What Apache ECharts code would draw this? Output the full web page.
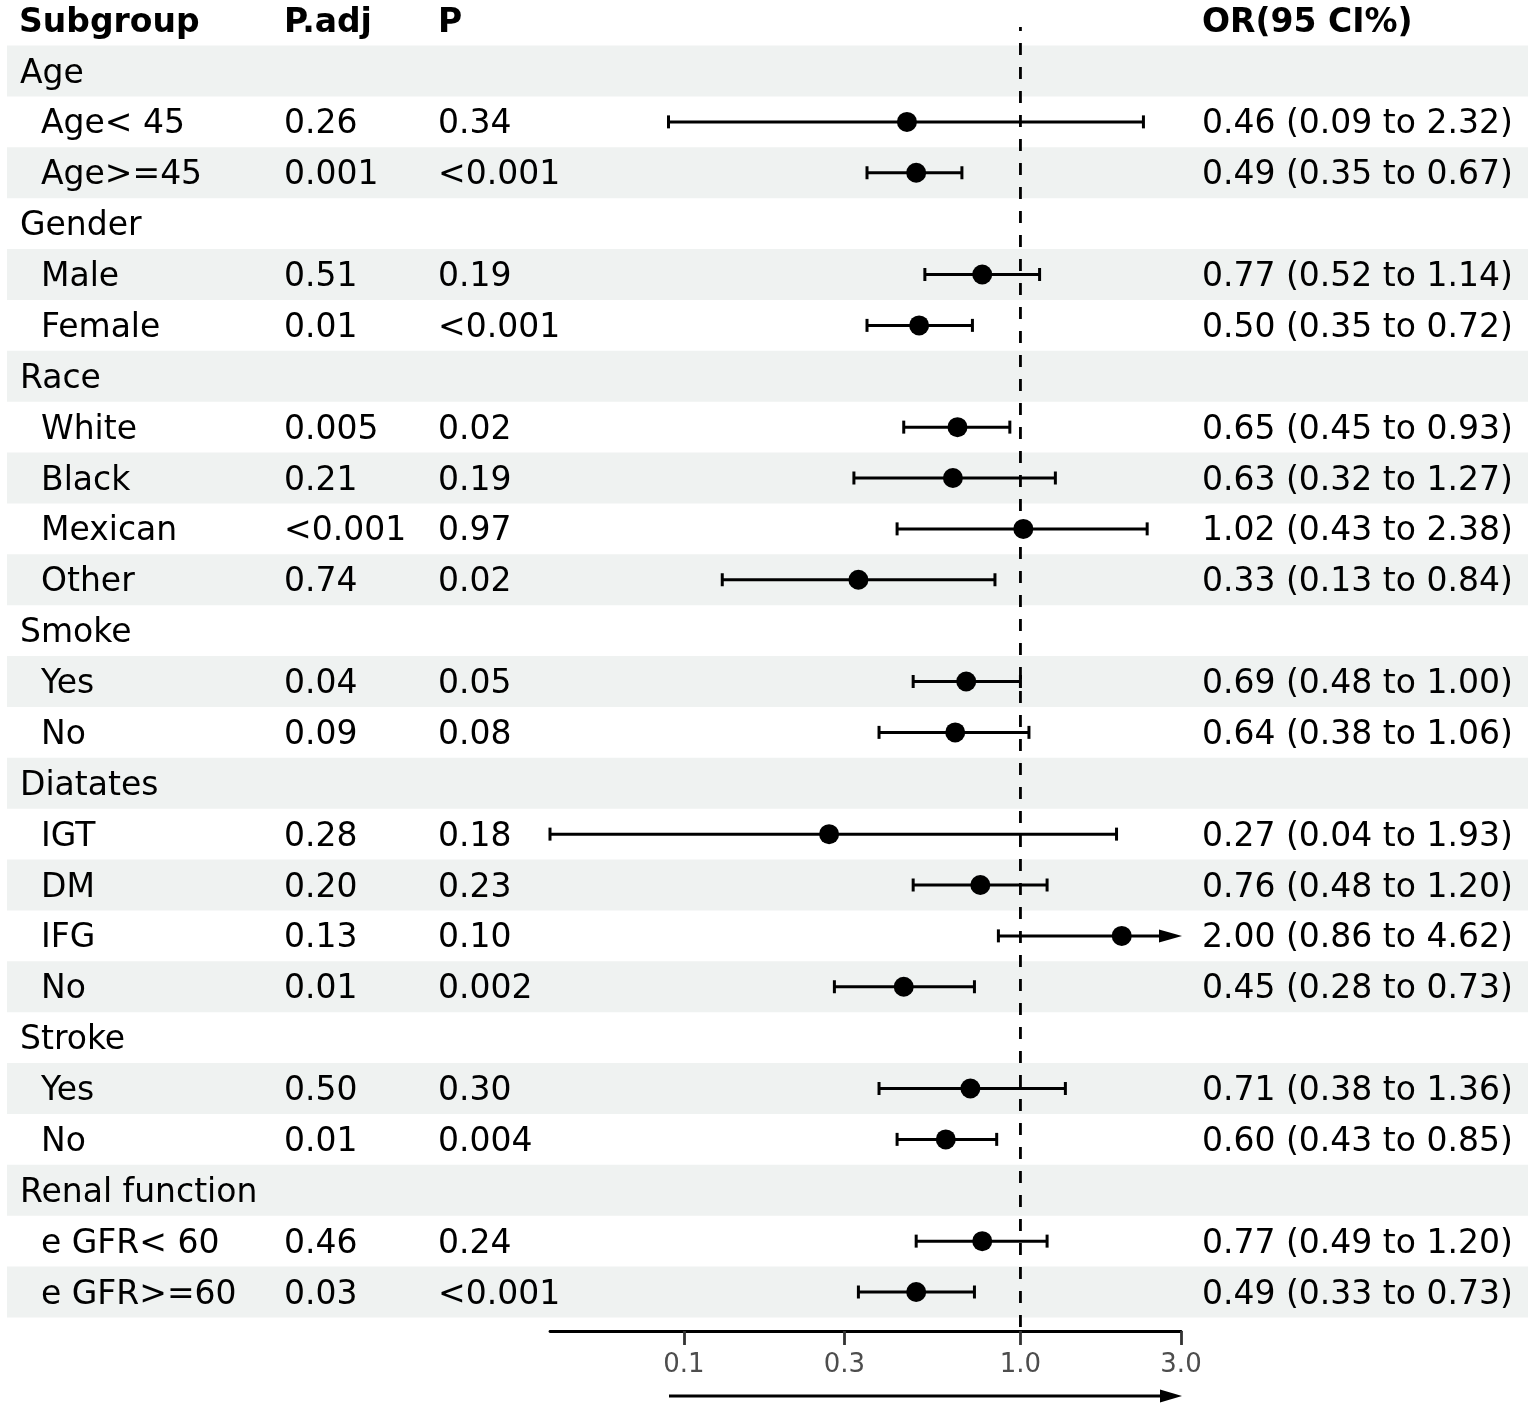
<!DOCTYPE html>
<html>
<head>
<meta charset="utf-8">
<script src="https://cdn.jsdelivr.net/npm/echarts@6/dist/echarts.min.js"></script>
<style>
  html, body { margin: 0; padding: 0; background: #fff; }
  #chart { width: 1535px; height: 1409px; }
</style>
</head>
<body>
<div id="chart"></div>
<script>
// ---------- DATA ----------
const headers = ['Subgroup', 'P.adj', 'P', 'OR(95 CI%)'];
const subgroups = ['Age', 'Age< 45', 'Age>=45', 'Gender', 'Male', 'Female', 'Race', 'White', 'Black', 'Mexican', 'Other',
  'Smoke', 'Yes', 'No', 'Diatates', 'IGT', 'DM', 'IFG', 'No', 'Stroke', 'Yes', 'No', 'Renal function', 'e GFR< 60', 'e GFR>=60'];
const isGroup = [1, 0, 0, 1, 0, 0, 1, 0, 0, 0, 0, 1, 0, 0, 1, 0, 0, 0, 0, 1, 0, 0, 1, 0, 0];
const pAdj = ['', '0.26', '0.001', '', '0.51', '0.01', '', '0.005', '0.21', '<0.001', '0.74',
  '', '0.04', '0.09', '', '0.28', '0.20', '0.13', '0.01', '', '0.50', '0.01', '', '0.46', '0.03'];
const pVal = ['', '0.34', '<0.001', '', '0.19', '<0.001', '', '0.02', '0.19', '0.97', '0.02',
  '', '0.05', '0.08', '', '0.18', '0.23', '0.10', '0.002', '', '0.30', '0.004', '', '0.24', '<0.001'];
const orVal = [null, 0.46, 0.49, null, 0.77, 0.50, null, 0.65, 0.63, 1.02, 0.33,
  null, 0.69, 0.64, null, 0.27, 0.76, 2.00, 0.45, null, 0.71, 0.60, null, 0.77, 0.49];
const ciLow = [null, 0.09, 0.35, null, 0.52, 0.35, null, 0.45, 0.32, 0.43, 0.13,
  null, 0.48, 0.38, null, 0.04, 0.48, 0.86, 0.28, null, 0.38, 0.43, null, 0.49, 0.33];
const ciHigh = [null, 2.32, 0.67, null, 1.14, 0.72, null, 0.93, 1.27, 2.38, 0.84,
  null, 1.00, 1.06, null, 1.93, 1.20, 4.62, 0.73, null, 1.36, 0.85, null, 1.20, 0.73];
const xTicks = [0.1, 0.3, 1, 3];
const refValue = 1;

// ---------- LAYOUT ----------
const X_MIN = 0.04, X_MAX = 3;
const GRID_TOP = 27, GRID_BOTTOM = 78;
const ROW_H = 50.875, ROW0_OFFSET = 44;
const Y_MIN = -ROW0_OFFSET / ROW_H;
const Y_MAX = Y_MIN + (1409 - GRID_TOP - GRID_BOTTOM) / ROW_H;
const FONT = 'DejaVu Sans';
const FS = 33;
const TEXT_DY = 3;
const COL_X = { group: 20, item: 41, padj: 284, p: 438, or: 1202 };

const fmt = v => v.toFixed(2);
const orText = orVal.map((v, i) => v == null ? '' : `${fmt(v)} (${fmt(ciLow[i])} to ${fmt(ciHigh[i])})`);

const rowIdx = subgroups.map((_, i) => i);

const bgData = rowIdx.filter(i => i % 2 === 0).map(i => [1, i]);
const textData = [[1, -1]].concat(rowIdx.map(i => [1, i]));
const ciData = rowIdx.filter(i => orVal[i] != null).map(i => [ciLow[i], i, ciHigh[i]]);
const dotData = rowIdx.filter(i => orVal[i] != null).map(i => [orVal[i], i]);

const chart = echarts.init(document.getElementById('chart'), null, { renderer: 'canvas' });

const textEl = (txt, x, y, bold) => ({
  type: 'text',
  style: {
    text: txt, x: x, y: y,
    font: (bold ? 'bold ' : '') + FS + 'px "' + FONT + '"',
    fill: '#000', textAlign: 'left', textVerticalAlign: 'middle'
  }
});

chart.setOption({
  animation: false,
  backgroundColor: '#ffffff',
  grid: { left: 550, right: 354, top: GRID_TOP, bottom: GRID_BOTTOM, containLabel: false },
  xAxis: {
    type: 'log', logBase: 10, min: X_MIN, max: X_MAX,
    axisLine: { show: true, onZero: false, lineStyle: { color: '#000', width: 2.8 } },
    axisTick: { show: true, customValues: xTicks, length: 14, lineStyle: { color: '#333', width: 2.8 } },
    axisLabel: { customValues: xTicks, formatter: v => Number(v).toFixed(1), fontSize: 26, fontFamily: FONT, color: '#4d4d4d', margin: 21 },
    splitLine: { show: false },
    minorTick: { show: false }
  },
  yAxis: { type: 'value', inverse: true, min: Y_MIN, max: Y_MAX, show: false },
  series: [
    {
      type: 'custom', z: 0, silent: true,
      data: bgData,
      encode: { x: 0, y: 1 },
      renderItem: (params, api) => {
        const r = api.value(1);
        const y0 = api.coord([1, r - 0.5])[1];
        const y1 = api.coord([1, r + 0.5])[1];
        return { type: 'rect', shape: { x: 7, y: y0, width: 1521, height: y1 - y0 }, style: { fill: '#eff2f1' } };
      }
    },
    {
      type: 'custom', z: 5, silent: true,
      data: textData,
      encode: { x: 0, y: 1 },
      renderItem: (params, api) => {
        const r = api.value(1);
        const y = api.coord([1, r])[1] + TEXT_DY;
        if (r === -1) {
          return {
            type: 'group', children: [
              textEl(headers[0], COL_X.group - 1, y, true),
              textEl(headers[1], COL_X.padj, y, true),
              textEl(headers[2], COL_X.p, y, true),
              textEl(headers[3], COL_X.or, y, true)
            ]
          };
        }
        const kids = [textEl(subgroups[r], isGroup[r] ? COL_X.group : COL_X.item, y, false)];
        if (pAdj[r]) kids.push(textEl(pAdj[r], COL_X.padj, y, false));
        if (pVal[r]) kids.push(textEl(pVal[r], COL_X.p, y, false));
        if (orText[r]) kids.push(textEl(orText[r], COL_X.or, y, false));
        return { type: 'group', children: kids };
      }
    },
    {
      type: 'custom', z: 3, silent: true,
      data: [[refValue, 0]],
      encode: { x: 0, y: 1 },
      renderItem: (params, api) => {
        const x = api.value(0);
        const p0 = api.coord([x, Y_MIN]);
        const p1 = api.coord([x, Y_MAX]);
        return {
          type: 'line',
          shape: { x1: p0[0], y1: p0[1], x2: p1[0], y2: p1[1] },
          style: { stroke: '#000', lineWidth: 2.8, lineDash: [12, 12], lineDashOffset: 8 }
        };
      }
    },
    {
      type: 'custom', z: 4, silent: true,
      data: ciData,
      encode: { x: [0, 2], y: 1 },
      renderItem: (params, api) => {
        const lo = api.value(0), r = api.value(1), hi = api.value(2);
        const clipped = hi > X_MAX;
        const p0 = api.coord([lo, r]);
        const p1 = api.coord([Math.min(hi, X_MAX), r]);
        const y = p0[1];
        const cap = 6.5;
        const ls = { stroke: '#000', lineWidth: 3 };
        const kids = [
          { type: 'line', shape: { x1: p0[0], y1: y, x2: clipped ? p1[0] - 18 : p1[0], y2: y }, style: ls },
          { type: 'line', shape: { x1: p0[0], y1: y - cap, x2: p0[0], y2: y + cap }, style: ls }
        ];
        if (clipped) {
          kids.push({ type: 'polygon', shape: { points: [[p1[0] - 22, y - 6.5], [p1[0] + 1, y], [p1[0] - 22, y + 6.5]] }, style: { fill: '#000' } });
        } else {
          kids.push({ type: 'line', shape: { x1: p1[0], y1: y - cap, x2: p1[0], y2: y + cap }, style: ls });
        }
        return { type: 'group', children: kids };
      }
    },
    {
      type: 'scatter', z: 6, silent: true,
      data: dotData,
      symbol: 'circle', symbolSize: 20,
      itemStyle: { color: '#000', opacity: 1 }
    }
  ],
  graphic: [
    { type: 'line', shape: { x1: 669, y1: 1396, x2: 1164, y2: 1396 }, style: { stroke: '#000', lineWidth: 3 } },
    { type: 'polygon', shape: { points: [[1160, 1389.5], [1182, 1396], [1160, 1402.5]] }, style: { fill: '#000' } }
  ]
});
</script>
</body>
</html>
